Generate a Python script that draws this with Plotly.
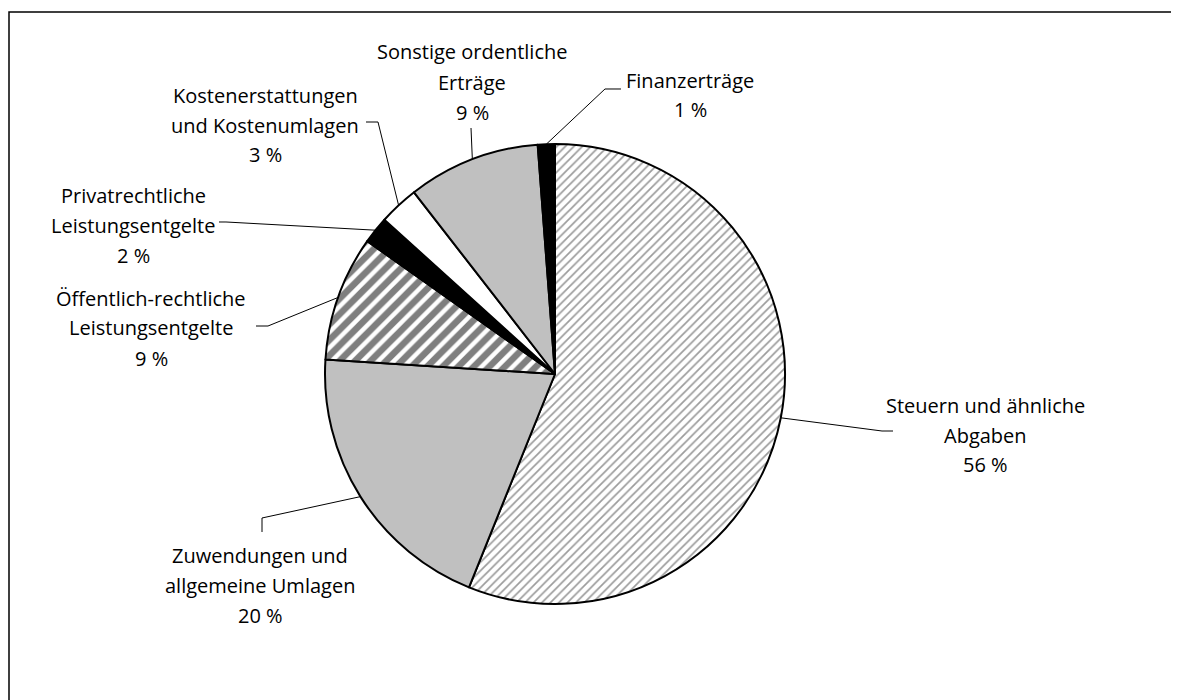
import math
import plotly.graph_objects as go

# ---- data ----
categories = [
    "Steuern und ähnliche Abgaben",
    "Zuwendungen und allgemeine Umlagen",
    "Öffentlich-rechtliche Leistungsentgelte",
    "Privatrechtliche Leistungsentgelte",
    "Kostenerstattungen und Kostenumlagen",
    "Sonstige ordentliche Erträge",
    "Finanzerträge",
]
values = [56.1, 19.9, 8.8, 1.9, 2.8, 9.3, 1.2]
label_lines = [
    ["Steuern und ähnliche", "Abgaben"],
    ["Zuwendungen und", "allgemeine Umlagen"],
    ["Öffentlich-rechtliche", "Leistungsentgelte"],
    ["Privatrechtliche", "Leistungsentgelte"],
    ["Kostenerstattungen", "und Kostenumlagen"],
    ["Sonstige ordentliche", "Erträge"],
    ["Finanzerträge"],
]

# ---- styles ----
fills = ["white", "#c0c0c0", "white", "black", "white", "#c0c0c0", "black"]
pat_shapes = ["/", "", "/", "", "", "", ""]
pat_fg = ["#3a3a3a", "black", "black", "black", "black", "black", "black"]
pat_size = [6, 8, 11, 8, 8, 8, 8]
pat_solid = [0.28, 0.3, 0.6, 0.3, 0.3, 0.3, 0.3]

W, H = 1179, 700
OFF = 8  # page body margin
CX, CY, R = 555, 374, 230

def px(x):
    return (x - OFF) / W

def py(y):
    return 1 - (y - OFF) / H

# label layout (pixels): center x, first line y, leader elbow points
label_pos = [
    (985, 405), (260, 555), (151, 298), (133, 195), (265, 95), (472, 52), (690, 80)
]
leader_pts = [
    [(882, 431), (893, 431)],
    [(262, 518), (262, 532)],
    [(268, 326), (256, 326)],
    [(226, 222), (219, 222)],
    [(378, 122), (366, 122)],
    [(471, 128)],
    [(605, 89), (621, 89)],
]
LINE_H = 30

fig = go.Figure()
fig.add_trace(go.Pie(
    labels=categories,
    values=values,
    sort=False,
    direction="clockwise",
    rotation=0,
    textinfo="none",
    hoverinfo="label+percent",
    marker=dict(
        colors=fills,
        line=dict(color="black", width=2),
        pattern=dict(shape=pat_shapes, fgcolor=pat_fg, size=pat_size,
                     solidity=pat_solid, fillmode="overlay"),
    ),
    domain=dict(x=[px(CX - R), px(CX + R)], y=[py(CY + R), py(CY - R)]),
    showlegend=False,
))

annotations = []
shapes = []
total = sum(values)
cum = 0
for i, v in enumerate(values):
    mid = 2 * math.pi * (cum + v / 2) / total
    cum += v
    ex = CX + R * math.sin(mid)
    ey = CY - R * math.cos(mid)
    pts = [(ex, ey)] + leader_pts[i]
    path = "M " + " L ".join(f"{px(a):.5f},{py(b):.5f}" for a, b in pts)
    shapes.append(dict(type="path", path=path, xref="paper", yref="paper",
                       line=dict(color="black", width=1)))
    lx, ly = label_pos[i]
    lines = label_lines[i] + [f"{round(v)} %"]
    for k, t in enumerate(lines):
        annotations.append(dict(
            x=px(lx), y=py(ly + k * LINE_H), xref="paper", yref="paper",
            text=t, showarrow=False, xanchor="center", yanchor="middle",
            font=dict(family="Open Sans", size=20, color="black"),
        ))

# frame (top and left edges visible)
shapes.append(dict(type="path",
                   path=f"M {px(9)},{py(720)} L {px(9)},{py(12)} L {px(1200)},{py(12)}",
                   xref="paper", yref="paper", line=dict(color="black", width=1.5)))

fig.update_layout(
    width=W, height=H,
    margin=dict(l=0, r=0, t=0, b=0),
    paper_bgcolor="white", plot_bgcolor="white",
    annotations=annotations, shapes=shapes,
)
fig.write_html("out.html")
